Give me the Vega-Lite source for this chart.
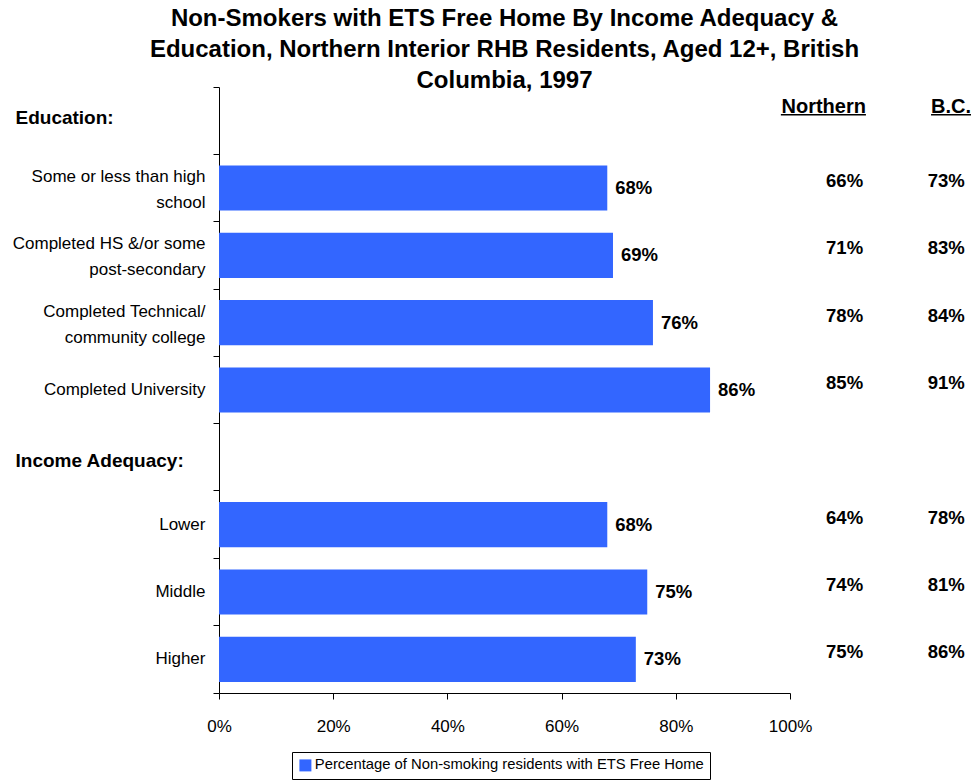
{
  "$schema": "https://vega.github.io/schema/vega-lite/v6.json",
  "width": 571,
  "height": 606,
  "autosize": "none",
  "padding": {"left": 219, "top": 87, "right": 185, "bottom": 89},
  "background": "white",
  "title": {
    "text": ["Non-Smokers with ETS Free Home By Income Adequacy &", "Education, Northern Interior RHB Residents, Aged 12+, British", "Columbia, 1997"],
    "font": "Liberation Sans",
    "fontSize": 24,
    "fontWeight": "bold",
    "lineHeight": 31,
    "anchor": "middle",
    "baseline": "bottom",
    "offset": -39,
    "color": "black"
  },
  "config": {
    "view": {"stroke": null},
    "axis": {"domainColor": "black", "tickColor": "black", "labelColor": "black", "labelFont": "Liberation Sans", "labelFontSize": 17, "grid": false, "titleColor": "black"}
  },
  "data": {
    "values": [
      {"cat": "Education:"},
      {"cat": "Some or less than high|school", "v": 0.68, "n": 0.66, "bc": 0.73},
      {"cat": "Completed HS &/or some|post-secondary", "v": 0.69, "n": 0.71, "bc": 0.83},
      {"cat": "Completed Technical/|community college", "v": 0.76, "n": 0.78, "bc": 0.84},
      {"cat": "Completed University", "v": 0.86, "n": 0.85, "bc": 0.91},
      {"cat": "Income Adequacy:"},
      {"cat": "Lower", "v": 0.68, "n": 0.64, "bc": 0.78},
      {"cat": "Middle", "v": 0.75, "n": 0.74, "bc": 0.81},
      {"cat": "Higher", "v": 0.73, "n": 0.75, "bc": 0.86}
    ]
  },
  "encoding": {
    "y": {
      "field": "cat",
      "type": "nominal",
      "sort": null,
      "scale": {
        "domain": ["Education:", "Some or less than high|school", "Completed HS &/or some|post-secondary", "Completed Technical/|community college", "Completed University", "Income Adequacy:", "Lower", "Middle", "Higher"],
        "paddingInner": 0,
        "paddingOuter": 0
      },
      "axis": {
        "title": null,
        "bandPosition": 1,
        "tickExtra": true,
        "tickSize": 6,
        "labelLimit": 300,
        "labelLineHeight": 26,
        "labelExpr": "isString(datum.value) ? split(datum.value, '|') : ''",
        "labelPadding": {"condition": {"test": "datum.value == 'Education:' || datum.value == 'Income Adequacy:'", "value": 198}, "value": 8},
        "labelAlign": {"condition": {"test": "datum.value == 'Education:' || datum.value == 'Income Adequacy:'", "value": "left"}, "value": "right"},
        "labelFontWeight": {"condition": {"test": "datum.value == 'Education:' || datum.value == 'Income Adequacy:'", "value": "bold"}, "value": "normal"},
        "labelFontSize": {"condition": {"test": "datum.value == 'Education:' || datum.value == 'Income Adequacy:'", "value": 19}, "value": 17},
        "labelOffset": {"condition": [{"test": "datum.value == 'Education:'", "value": -3}, {"test": "datum.value == 'Income Adequacy:'", "value": 4}, {"test": "isString(datum.value) && indexof(datum.value, '|') >= 0", "value": -11}], "value": 0}
      }
    }
  },
  "layer": [
    {
      "mark": {"type": "bar", "height": {"band": 0.67}},
      "encoding": {
        "x": {
          "field": "v",
          "type": "quantitative",
          "scale": {"domain": [0, 1], "nice": false},
          "axis": {"title": null, "values": [0, 0.2, 0.4, 0.6, 0.8, 1], "format": ".0%", "tickSize": 6, "labelPadding": 19, "labelFlush": false}
        },
        "color": {
          "datum": "Percentage of Non-smoking residents with ETS Free Home",
          "scale": {"range": ["#3366FF"]},
          "legend": {
            "title": null,
            "orient": "none",
            "legendX": 73,
            "legendY": 665,
            "direction": "horizontal",
            "symbolType": "square",
            "symbolSize": 144,
            "symbolStrokeWidth": 0,
            "labelFont": "Liberation Sans",
            "labelFontSize": 14.8,
            "labelColor": "black",
            "labelLimit": 600,
            "labelOffset": 2,
            "strokeColor": "black",
            "fillColor": "white",
            "padding": 6
          }
        }
      }
    },
    {
      "mark": {"type": "text", "align": "left", "baseline": "middle", "dx": 8, "font": "Liberation Sans", "fontWeight": "bold", "fontSize": 18.5, "color": "black"},
      "encoding": {
        "x": {"field": "v", "type": "quantitative", "scale": {"domain": [0, 1], "nice": false}, "axis": {"title": null, "values": [0, 0.2, 0.4, 0.6, 0.8, 1], "format": ".0%", "tickSize": 6, "labelPadding": 19, "labelFlush": false}},
        "text": {"field": "v", "type": "quantitative", "format": ".0%"}
      }
    },
    {
      "transform": [{"filter": "isValid(datum.n)"}],
      "mark": {"type": "text", "align": "right", "baseline": "middle", "dy": -7, "font": "Liberation Sans", "fontWeight": "bold", "fontSize": 18.5, "color": "black"},
      "encoding": {
        "x": {"datum": 1.128, "type": "quantitative", "scale": {"domain": [0, 1], "nice": false}, "axis": {"title": null, "values": [0, 0.2, 0.4, 0.6, 0.8, 1], "format": ".0%", "tickSize": 6, "labelPadding": 19, "labelFlush": false}},
        "text": {"field": "n", "type": "quantitative", "format": ".0%"}
      }
    },
    {
      "transform": [{"filter": "isValid(datum.bc)"}],
      "mark": {"type": "text", "align": "right", "baseline": "middle", "dy": -7, "font": "Liberation Sans", "fontWeight": "bold", "fontSize": 18.5, "color": "black"},
      "encoding": {
        "x": {"datum": 1.306, "type": "quantitative", "scale": {"domain": [0, 1], "nice": false}, "axis": {"title": null, "values": [0, 0.2, 0.4, 0.6, 0.8, 1], "format": ".0%", "tickSize": 6, "labelPadding": 19, "labelFlush": false}},
        "text": {"field": "bc", "type": "quantitative", "format": ".0%"}
      }
    },
    {
      "data": {"values": [{"cat": "Education:", "h": "Northern"}]},
      "mark": {"type": "text", "align": "right", "baseline": "middle", "dy": -14, "font": "Liberation Sans", "fontWeight": "bold", "fontSize": 20, "color": "black"},
      "encoding": {
        "x": {"datum": 1.133, "type": "quantitative", "scale": {"domain": [0, 1], "nice": false}, "axis": {"title": null, "values": [0, 0.2, 0.4, 0.6, 0.8, 1], "format": ".0%", "tickSize": 6, "labelPadding": 19, "labelFlush": false}},
        "text": {"field": "h", "type": "nominal"}
      }
    },
    {
      "data": {"values": [{"cat": "Education:", "h": "B.C."}]},
      "mark": {"type": "text", "align": "right", "baseline": "middle", "dy": -14, "font": "Liberation Sans", "fontWeight": "bold", "fontSize": 20, "color": "black"},
      "encoding": {
        "x": {"datum": 1.317, "type": "quantitative", "scale": {"domain": [0, 1], "nice": false}, "axis": {"title": null, "values": [0, 0.2, 0.4, 0.6, 0.8, 1], "format": ".0%", "tickSize": 6, "labelPadding": 19, "labelFlush": false}},
        "text": {"field": "h", "type": "nominal"}
      }
    },
    {
      "data": {"values": [{"cat": "Education:"}]},
      "mark": {"type": "rule", "color": "black", "strokeWidth": 1.5, "yOffset": -6},
      "encoding": {
        "x": {"datum": 0.984, "type": "quantitative", "scale": {"domain": [0, 1], "nice": false}, "axis": {"title": null, "values": [0, 0.2, 0.4, 0.6, 0.8, 1], "format": ".0%", "tickSize": 6, "labelPadding": 19, "labelFlush": false}},
        "x2": {"datum": 1.133}
      }
    },
    {
      "data": {"values": [{"cat": "Education:"}]},
      "mark": {"type": "rule", "color": "black", "strokeWidth": 1.5, "yOffset": -6},
      "encoding": {
        "x": {"datum": 1.247, "type": "quantitative", "scale": {"domain": [0, 1], "nice": false}, "axis": {"title": null, "values": [0, 0.2, 0.4, 0.6, 0.8, 1], "format": ".0%", "tickSize": 6, "labelPadding": 19, "labelFlush": false}},
        "x2": {"datum": 1.317}
      }
    }
  ]
}
